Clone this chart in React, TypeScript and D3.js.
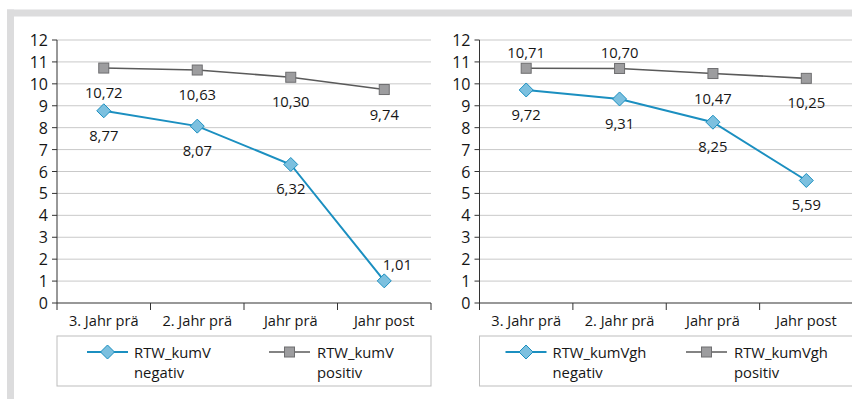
import React from "react";
import * as d3 from "d3";

const categories = ["3. Jahr prä", "2. Jahr prä", "Jahr prä", "Jahr post"];
const yTicks = [0, 1, 2, 3, 4, 5, 6, 7, 8, 9, 10, 11, 12];

const leftNegativ = [8.77, 8.07, 6.32, 1.01];
const leftPositiv = [10.72, 10.63, 10.3, 9.74];
const rightNegativ = [9.72, 9.31, 8.25, 5.59];
const rightPositiv = [10.71, 10.7, 10.47, 10.25];

const leftNegLabelPos = ["below", "below", "below", "aboveRight"];
const leftPosLabelPos = ["below", "below", "below", "below"];
const rightNegLabelPos = ["below", "below", "below", "below"];
const rightPosLabelPos = ["above", "above", "below", "below"];

const leftSeriesNames = [["RTW_kumV", "negativ"], ["RTW_kumV", "positiv"]];
const rightSeriesNames = [["RTW_kumVgh", "negativ"], ["RTW_kumVgh", "positiv"]];

const FONT = "'Open Sans', 'DejaVu Sans', sans-serif";
const TEXT = "#161616";
const BLUE = "#1b8fc0";
const BLUE_FILL = "#7cc0df";
const GRAY = "#5a5a5a";
const GRAY_FILL = "#9d9d9f";
const GRAY_STROKE = "#6e6e70";

const fmt = (v: number) => v.toFixed(2).replace(".", ",");

function Diamond({ x, y, r = 7 }: { x: number; y: number; r?: number }) {
  return (
    <path
      d={`M${x},${y - r}L${x + r},${y}L${x},${y + r}L${x - r},${y}Z`}
      fill={BLUE_FILL}
      stroke={BLUE}
      strokeWidth={1}
    />
  );
}

function Square({ x, y, s = 10 }: { x: number; y: number; s?: number }) {
  return (
    <rect x={x - s / 2} y={y - s / 2} width={s} height={s} fill={GRAY_FILL} stroke={GRAY_STROKE} strokeWidth={1} />
  );
}

function Panel({
  x0,
  x1,
  neg,
  pos,
  negPos,
  posPos,
  names,
  legendOffsets,
}: {
  x0: number;
  x1: number;
  neg: number[];
  pos: number[];
  negPos: string[];
  posPos: string[];
  names: string[][];
  legendOffsets: number[];
}) {
  const y = d3.scaleLinear().domain([0, 12]).range([303, 40]);
  const x = d3.scaleBand().domain(categories).range([x0, x1]).padding(0);
  const cx = (c: string) => (x(c) as number) + x.bandwidth() / 2;
  const line = d3
    .line<number>()
    .x((_, i) => cx(categories[i]))
    .y((d) => y(d));

  const label = (v: number, i: number, p: string, key: string) => {
    const px = cx(categories[i]);
    const py = y(v);
    let lx = px;
    let ly = py + 24;
    if (p === "above") ly = py - 16;
    if (p === "aboveRight") {
      lx = px + 13;
      ly = py - 17;
    }
    return (
      <text key={key} x={lx} y={ly} textAnchor="middle" dominantBaseline="central" fontSize={14.8} fill={TEXT}>
        {fmt(v)}
      </text>
    );
  };

  const boundaries = [...categories.map((c) => x(c) as number), x1];

  return (
    <g fontFamily={FONT}>
      {yTicks.map((t) => (
        <g key={t}>
          {t > 0 && <line x1={x0} x2={x1} y1={y(t)} y2={y(t)} stroke="#c9c9c9" strokeWidth={1} />}
          <line x1={x0 - 5} x2={x0} y1={y(t)} y2={y(t)} stroke="#333" strokeWidth={1} />
          <text x={x0 - 9} y={y(t)} textAnchor="end" dominantBaseline="central" fontSize={16} fill={TEXT}>
            {t}
          </text>
        </g>
      ))}
      <line x1={x0} x2={x0} y1={y(12)} y2={y(0)} stroke="#333" strokeWidth={1} />
      <line x1={x0} x2={x1} y1={y(0)} y2={y(0)} stroke="#333" strokeWidth={1.2} />
      {boundaries.map((b, i) => (
        <line key={i} x1={b} x2={b} y1={y(0)} y2={y(0) + 7} stroke="#333" strokeWidth={1} />
      ))}
      {categories.map((c) => (
        <text key={c} x={cx(c)} y={320} textAnchor="middle" dominantBaseline="central" fontSize={14.6} fill={TEXT}>
          {c}
        </text>
      ))}
      <path d={line(pos) || ""} fill="none" stroke={GRAY} strokeWidth={1.6} />
      <path d={line(neg) || ""} fill="none" stroke={BLUE} strokeWidth={2} />
      {pos.map((v, i) => (
        <Square key={"s" + i} x={cx(categories[i])} y={y(v)} />
      ))}
      {neg.map((v, i) => (
        <Diamond key={"d" + i} x={cx(categories[i])} y={y(v)} />
      ))}
      {pos.map((v, i) => label(v, i, posPos[i], "lp" + i))}
      {neg.map((v, i) => label(v, i, negPos[i], "ln" + i))}

      <rect x={x0} y={336} width={x1 - x0} height={50} fill="none" stroke="#bdbdbd" strokeWidth={1} />
      <line x1={x0 + legendOffsets[0]} x2={x0 + legendOffsets[0] + 41} y1={352} y2={352} stroke={BLUE} strokeWidth={2} />
      <Diamond x={x0 + legendOffsets[0] + 20.5} y={352} />
      <text x={x0 + legendOffsets[0] + 47} y={352} dominantBaseline="central" fontSize={14.8} fill={TEXT}>
        {names[0][0]}
      </text>
      <text x={x0 + legendOffsets[0] + 47} y={372} dominantBaseline="central" fontSize={14.8} fill={TEXT}>
        {names[0][1]}
      </text>
      <line x1={x0 + legendOffsets[1]} x2={x0 + legendOffsets[1] + 41} y1={352} y2={352} stroke={GRAY} strokeWidth={1.6} />
      <Square x={x0 + legendOffsets[1] + 20.5} y={352} />
      <text x={x0 + legendOffsets[1] + 48} y={352} dominantBaseline="central" fontSize={14.8} fill={TEXT}>
        {names[1][0]}
      </text>
      <text x={x0 + legendOffsets[1] + 48} y={372} dominantBaseline="central" fontSize={14.8} fill={TEXT}>
        {names[1][1]}
      </text>
    </g>
  );
}

export default function App() {
  return (
    <svg
      width={852}
      height={399}
      style={{ position: "absolute", left: 0, top: 0, background: "#fff" }}
      xmlns="http://www.w3.org/2000/svg"
    >
      <rect x={0} y={0} width={852} height={399} fill="#fff" />
      <rect x={7} y={9.5} width={845} height={7} fill="#dcdcdd" />
      <rect x={7} y={9.5} width={7} height={390} fill="#dcdcdd" />
      <Panel
        x0={57}
        x1={431}
        neg={leftNegativ}
        pos={leftPositiv}
        negPos={leftNegLabelPos}
        posPos={leftPosLabelPos}
        names={leftSeriesNames}
        legendOffsets={[30, 212]}
      />
      <Panel
        x0={479.5}
        x1={853}
        neg={rightNegativ}
        pos={rightPositiv}
        negPos={rightNegLabelPos}
        posPos={rightPosLabelPos}
        names={rightSeriesNames}
        legendOffsets={[26, 206.5]}
      />
    </svg>
  );
}
